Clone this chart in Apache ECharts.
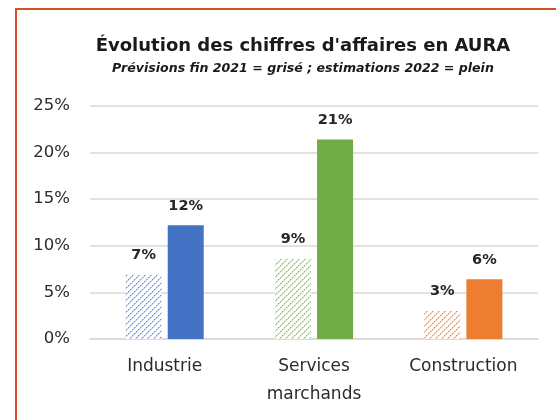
<!DOCTYPE html>
<html>
<head>
<meta charset="utf-8">
<script src="https://cdn.jsdelivr.net/npm/echarts@6/dist/echarts.min.js"></script>
<style>
  html, body { margin: 0; padding: 0; background: #fff; }
  #wrap { position: relative; width: 556px; height: 420px; overflow: hidden; }
  #frame { position: absolute; left: 15px; top: 8px; width: 600px; height: 500px;
           border-left: 2px solid #d4502a; border-top: 2px solid #d4502a; box-sizing: border-box; }
  #chart { position: absolute; left: 0; top: 0; width: 556px; height: 420px; }
</style>
</head>
<body>
<div id="wrap">
  <div id="frame"></div>
  <div id="chart"></div>
</div>
<script>
// values
const categories = ['Industrie', 'Services\nmarchands', 'Construction'];
const prev2021 = [6.9, 8.6, 3.0];   // prévisions fin 2021 (grisé)
const est2022 = [12.2, 21.4, 6.4];  // estimations 2022 (plein)
const yTicks = [0, 5, 10, 15, 20, 25];

const solidColors = ['#4472C4', '#70AD47', '#ED7D31'];
const hatchColors = ['#6f93d8', '#85bf5e', '#f08a45'];
const hatchSoft = ['#c3d2f0', '#cfe6bf', '#f9cfb0'];

const FONT = '"DejaVu Sans", sans-serif';

// dotted "/" hatch on white, like the Excel pattern fill
function hatch(color, soft) {
  const c = document.createElement('canvas');
  c.width = 6; c.height = 6;
  const ctx = c.getContext('2d');
  ctx.fillStyle = '#ffffff';
  ctx.fillRect(0, 0, 6, 6);
  for (let x = 0; x < 6; x++) {
    ctx.fillStyle = soft;
    ctx.fillRect((x + 1) % 6, 5 - x, 1, 1);
    ctx.fillStyle = x % 2 ? soft : color;
    ctx.fillRect(x, 5 - x, 1, 1);
  }
  return c;
}

const chart = echarts.init(document.getElementById('chart'));

const labelStyle = {
  show: true,
  position: 'top',
  distance: 12,
  fontFamily: FONT,
  fontWeight: 'bold',
  fontSize: 14.5,
  color: '#262626',
  formatter: p => Math.round(p.value) + '%'
};

chart.setOption({
  animation: false,
  title: {
    text: "Évolution des chiffres d'affaires en AURA",
    subtext: 'Prévisions fin 2021 = grisé ; estimations 2022 = plein',
    left: 298,
    textAlign: 'center',
    top: 32,
    itemGap: 7,
    textStyle: { fontFamily: FONT, fontWeight: 'bold', fontSize: 18, color: '#1a1a1a' },
    subtextStyle: { fontFamily: FONT, fontWeight: 'bold', fontStyle: 'italic', fontSize: 12.6, color: '#1a1a1a' }
  },
  grid: { left: 90, right: 18, top: 106, bottom: 81 },
  xAxis: {
    type: 'category',
    data: categories,
    axisTick: { show: false },
    axisLine: { lineStyle: { color: '#d9d9d9', width: 1.5 } },
    axisLabel: {
      margin: 14,
      fontFamily: FONT,
      fontSize: 17,
      lineHeight: 28,
      color: '#2b2b2b'
    }
  },
  yAxis: {
    type: 'value',
    min: yTicks[0],
    max: yTicks[yTicks.length - 1],
    interval: 5,
    axisLine: { show: false },
    axisTick: { show: false },
    splitLine: { lineStyle: { color: '#d9d9d9', width: 1.5 } },
    axisLabel: {
      margin: 20,
      fontFamily: FONT,
      fontSize: 16.5,
      color: '#2b2b2b',
      formatter: '{value}%'
    }
  },
  series: [
    {
      name: '2021',
      type: 'bar',
      barWidth: 36,
      barGap: '17%',
      data: prev2021.map((v, i) => ({
        value: v,
        itemStyle: { color: { image: hatch(hatchColors[i], hatchSoft[i]), repeat: 'repeat' } }
      })),
      label: labelStyle
    },
    {
      name: '2022',
      type: 'bar',
      barWidth: 36,
      data: est2022.map((v, i) => ({
        value: v,
        itemStyle: { color: solidColors[i] }
      })),
      label: labelStyle
    }
  ]
});
</script>
</body>
</html>
